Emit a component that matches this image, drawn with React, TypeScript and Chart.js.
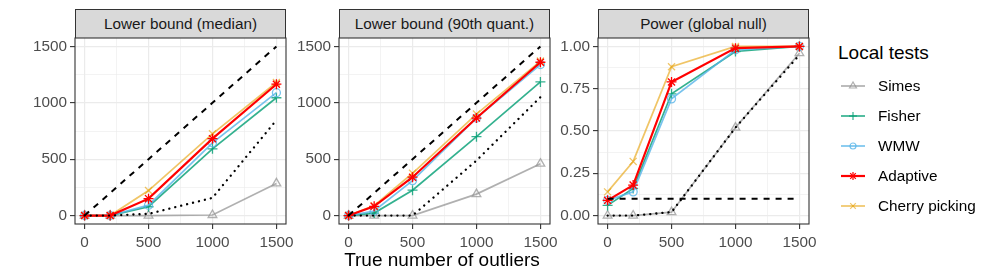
import React, { useEffect, useRef } from "react";
import { Chart, registerables } from "chart.js";
Chart.register(...registerables);

// ---------------- DATA ----------------
const xValues = [0, 200, 500, 1000, 1500];
const panelTitles = ["Lower bound (median)", "Lower bound (90th quant.)", "Power (global null)"];
const seriesNames = ["Simes", "Fisher", "WMW", "Adaptive", "Cherry picking"];
const legendTitle = "Local tests";
const xAxisTitle = "True number of outliers";

// Panel 1: Lower bound (median)
const medianSimes = [0, 0, 0, 5, 285];
const medianFisher = [0, 0, 78, 592, 1045];
const medianWMW = [0, 0, 92, 645, 1090];
const medianAdaptive = [0, 0, 150, 682, 1165];
const medianCherry = [0, 0, 222, 725, 1180];
const medianDashed = [0, 200, 500, 1000, 1500];
const medianDotted = [0, 0, 15, 157, 846];

// Panel 2: Lower bound (90th quant.)
const q90Simes = [0, 0, 0, 190, 460];
const q90Fisher = [0, 22, 225, 700, 1185];
const q90WMW = [0, 40, 310, 865, 1340];
const q90Adaptive = [0, 82, 340, 865, 1360];
const q90Cherry = [0, 88, 375, 900, 1370];
const q90Dashed = [0, 200, 500, 1000, 1500];
const q90Dotted = [0, 0, 0, 488, 1050];

// Panel 3: Power (global null)
const powerSimes = [0, 0, 0.02, 0.52, 0.96];
const powerFisher = [0.06, 0.16, 0.72, 0.97, 1.0];
const powerWMW = [0.09, 0.14, 0.69, 0.98, 1.0];
const powerAdaptive = [0.09, 0.18, 0.79, 0.99, 1.0];
const powerCherry = [0.14, 0.32, 0.88, 1.0, 1.0];
const powerDashed = [0.1, 0.1, 0.1, 0.1, 0.1];
const powerDotted = [0, 0, 0.02, 0.52, 0.95];

// Ticks
const xMajor = [0, 500, 1000, 1500];
const xMinor = [250, 750, 1250];
const countMajor = [0, 500, 1000, 1500];
const countMinor = [250, 750, 1250];
const powerMajor = [0, 0.25, 0.5, 0.75, 1];
const powerMinor = [0.125, 0.375, 0.625, 0.875];

// ---------------- STYLE ----------------
const FONT = "'Liberation Sans', Arial, Helvetica, sans-serif";
const SMALL = 15.3;
const BIG = 19;
const seriesStyles = [
  { color: "rgba(150,150,150,0.75)", point: "triangle", radius: 5, width: 1.7 },
  { color: "rgba(0,158,115,0.8)", point: "cross", radius: 5, width: 1.7 },
  { color: "rgba(86,180,233,0.8)", point: "circle", radius: 4, width: 1.7 },
  { color: "rgba(255,0,0,1)", point: "star", radius: 5, width: 2.2 },
  { color: "rgba(230,159,0,0.6)", point: "crossRot", radius: 5, width: 1.7 },
];
// drawing order: first listed = on top
const drawOrder = [3, 4, 2, 1, 0];

const PANEL_TOP = 38;
const PANEL_H = 186;
const PANEL_W = 211;
const panelLefts = [75, 339, 598];
const YW = 60;
const XH = 32;
const PT = 12;
const PR = 20;

type PanelSpec = {
  series: number[][];
  dashed: number[];
  dotted: number[];
  yMin: number;
  yMax: number;
  major: number[];
  minor: number[];
  fmt: (v: number) => string;
};

const panels: PanelSpec[] = [
  {
    series: [medianSimes, medianFisher, medianWMW, medianAdaptive, medianCherry],
    dashed: medianDashed, dotted: medianDotted,
    yMin: -75, yMax: 1575, major: countMajor, minor: countMinor, fmt: (v) => String(v),
  },
  {
    series: [q90Simes, q90Fisher, q90WMW, q90Adaptive, q90Cherry],
    dashed: q90Dashed, dotted: q90Dotted,
    yMin: -75, yMax: 1575, major: countMajor, minor: countMinor, fmt: (v) => String(v),
  },
  {
    series: [powerSimes, powerFisher, powerWMW, powerAdaptive, powerCherry],
    dashed: powerDashed, dotted: powerDotted,
    yMin: -0.05, yMax: 1.05, major: powerMajor, minor: powerMinor, fmt: (v) => v.toFixed(2),
  },
];

const near = (list: number[], v: number) => list.some((m) => Math.abs(m - v) < 1e-9);

const borderPlugin = {
  id: "panelBorder",
  afterDatasetsDraw(chart: any) {
    const { ctx, chartArea } = chart;
    ctx.save();
    ctx.strokeStyle = "#333333";
    ctx.lineWidth = 1.1;
    ctx.strokeRect(chartArea.left, chartArea.top, chartArea.right - chartArea.left, chartArea.bottom - chartArea.top);
    ctx.restore();
  },
};

function makeConfig(p: PanelSpec): any {
  const pts = (arr: number[]) => xValues.map((x, i) => ({ x, y: arr[i] }));
  const datasets: any[] = [];
  datasets.push({
    label: "dotted",
    data: pts(p.dotted),
    borderColor: "#000000",
    borderWidth: 2.3,
    borderDash: [0.1, 6],
    borderCapStyle: "round",
    pointRadius: 0,
  });
  datasets.push({
    label: "dashed",
    data: pts(p.dashed),
    borderColor: "#000000",
    borderWidth: 2,
    borderDash: [6, 6],
    pointRadius: 0,
  });
  drawOrder.forEach((si) => {
    const s = seriesStyles[si];
    datasets.push({
      label: seriesNames[si],
      data: pts(p.series[si]),
      borderColor: s.color,
      borderWidth: s.width,
      pointStyle: s.point,
      pointRadius: s.radius,
      pointBorderColor: s.color,
      pointBackgroundColor: "rgba(0,0,0,0)",
      pointBorderWidth: 1.3,
    });
  });
  const tickFont = { family: FONT, size: SMALL };
  return {
    type: "line",
    data: { datasets },
    plugins: [borderPlugin],
    options: {
      animation: false,
      responsive: false,
      devicePixelRatio: 1,
      layout: { padding: { top: PT, right: PR, left: 0, bottom: 0 } },
      plugins: { legend: { display: false }, tooltip: { enabled: false } },
      elements: { line: { tension: 0 } },
      scales: {
        x: {
          type: "linear",
          min: -75,
          max: 1575,
          afterBuildTicks: (s: any) => {
            s.ticks = [...xMajor, ...xMinor].sort((a, b) => a - b).map((v) => ({ value: v }));
          },
          afterFit: (s: any) => {
            s.height = XH;
            s.paddingLeft = 0; s.paddingRight = 0; s.paddingTop = 0; s.paddingBottom = 0;
          },
          ticks: {
            autoSkip: false, maxRotation: 0, minRotation: 0, color: "#4D4D4D", font: tickFont, padding: 5,
            callback: (v: number) => (near(xMajor, v) ? String(v) : ""),
          },
          grid: {
            color: "#EBEBEB",
            lineWidth: (c: any) => (c.tick && near(xMajor, c.tick.value) ? 1.2 : 0.6),
            tickLength: 5,
            tickWidth: 1.1,
            tickColor: (c: any) => (c.tick && near(xMajor, c.tick.value) ? "#333333" : "rgba(0,0,0,0)"),
          },
          border: { display: false },
        },
        y: {
          type: "linear",
          min: p.yMin,
          max: p.yMax,
          afterBuildTicks: (s: any) => {
            s.ticks = [...p.major, ...p.minor].sort((a, b) => a - b).map((v) => ({ value: v }));
          },
          afterFit: (s: any) => {
            s.width = YW;
            s.paddingLeft = 0; s.paddingRight = 0; s.paddingTop = 0; s.paddingBottom = 0;
          },
          ticks: {
            autoSkip: false, color: "#4D4D4D", font: tickFont, padding: 3,
            callback: (v: number) => (near(p.major, v) ? p.fmt(v) : ""),
          },
          grid: {
            color: "#EBEBEB",
            lineWidth: (c: any) => (c.tick && near(p.major, c.tick.value) ? 1.2 : 0.6),
            tickLength: 5,
            tickWidth: 1.1,
            tickColor: (c: any) => (c.tick && near(p.major, c.tick.value) ? "#333333" : "rgba(0,0,0,0)"),
          },
          border: { display: false },
        },
      },
    },
  };
}

function Panel({ index }: { index: number }) {
  const ref = useRef<HTMLCanvasElement | null>(null);
  useEffect(() => {
    if (!ref.current) return;
    const chart = new Chart(ref.current, makeConfig(panels[index]));
    return () => chart.destroy();
  }, [index]);
  const left = panelLefts[index];
  const w = YW + PANEL_W + PR;
  const h = PT + PANEL_H + XH;
  return (
    <>
      <div
        style={{
          position: "absolute",
          left: left,
          top: 9,
          width: PANEL_W,
          height: PANEL_TOP - 9,
          boxSizing: "border-box",
          background: "#D9D9D9",
          border: "1.1px solid #333333",
          borderBottom: "none",
          fontFamily: FONT,
          fontSize: SMALL,
          color: "#1A1A1A",
          display: "flex",
          alignItems: "center",
          justifyContent: "center",
          whiteSpace: "nowrap",
        }}
      >
        {panelTitles[index]}
      </div>
      <canvas
        ref={ref}
        width={w}
        height={h}
        style={{ position: "absolute", left: left - YW, top: PANEL_TOP - PT, width: w, height: h }}
      />
    </>
  );
}

function Marker({ kind, color }: { kind: string; color: string }) {
  const cx = 12, cy = 7, r = 4;
  const sw = 1.2;
  if (kind === "triangle") {
    const pts = `${cx},${cy - r} ${cx - r * 0.87},${cy + r * 0.5} ${cx + r * 0.87},${cy + r * 0.5}`;
    return <polygon points={pts} fill="none" stroke={color} strokeWidth={sw} />;
  }
  if (kind === "circle") return <circle cx={cx} cy={cy} r={3} fill="none" stroke={color} strokeWidth={sw} />;
  const plus = (
    <>
      <line x1={cx - r} y1={cy} x2={cx + r} y2={cy} stroke={color} strokeWidth={sw} />
      <line x1={cx} y1={cy - r} x2={cx} y2={cy + r} stroke={color} strokeWidth={sw} />
    </>
  );
  const d = r * 0.7;
  const xs = (
    <>
      <line x1={cx - d} y1={cy - d} x2={cx + d} y2={cy + d} stroke={color} strokeWidth={sw} />
      <line x1={cx - d} y1={cy + d} x2={cx + d} y2={cy - d} stroke={color} strokeWidth={sw} />
    </>
  );
  if (kind === "cross") return plus;
  if (kind === "crossRot") return xs;
  return (
    <>
      {plus}
      {xs}
    </>
  );
}

function Legend() {
  return (
    <div style={{ position: "absolute", left: 838, top: 40, fontFamily: FONT }}>
      <div style={{ fontSize: BIG, color: "#000", lineHeight: "26px", height: 26 }}>{legendTitle}</div>
      {seriesNames.map((name, i) => {
        const s = seriesStyles[i];
        return (
          <div
            key={name}
            style={{ position: "absolute", left: 3, top: 39 + i * 30, height: 14, display: "flex", alignItems: "center", whiteSpace: "nowrap" }}
          >
            <svg width={24} height={14} style={{ display: "block" }}>
              <line x1={0} y1={7} x2={24} y2={7} stroke={s.color} strokeWidth={s.width} />
              <Marker kind={s.point} color={s.color} />
            </svg>
            <span style={{ fontSize: SMALL, color: "#000", marginLeft: 13 }}>{name}</span>
          </div>
        );
      })}
    </div>
  );
}

export default function App() {
  return (
    <div style={{ position: "fixed", left: 0, top: 0, width: 996, height: 280, background: "#fff", overflow: "hidden" }}>
      {panels.map((_, i) => (
        <Panel key={i} index={i} />
      ))}
      <div
        style={{
          position: "absolute",
          left: panelLefts[0],
          width: panelLefts[2] + PANEL_W - panelLefts[0],
          top: 249,
          textAlign: "center",
          fontFamily: FONT,
          fontSize: BIG,
          color: "#000",
          lineHeight: "22px",
        }}
      >
        {xAxisTitle}
      </div>
      <Legend />
    </div>
  );
}
